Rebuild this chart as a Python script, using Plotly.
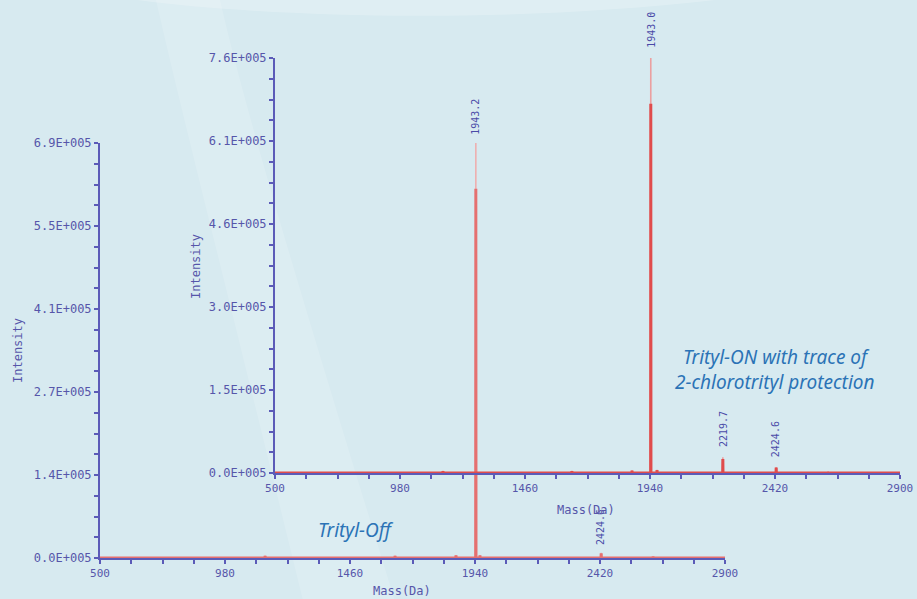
import plotly.graph_objects as go

# ---------------- data ----------------
mass_range = [500, 2900]
x_major = [500, 980, 1460, 1940, 2420, 2900]
x_minor_step = 120

# Back spectrum (Trityl-Off)
off_max = 6.86e5
off_peak_mass = [1134, 1633, 1867, 1943.2, 1959, 2424.6, 2624]
off_peak_int = [4e3, 4e3, 5e3, 6.86e5, 5e3, 8.5e3, 3e3]
off_labels = {1943.2: "1943.2", 2424.6: "2424.6"}

# Front spectrum (Trityl-ON)
on_max = 7.6e5
on_peak_mass = [1145, 1640, 1871, 1943.0, 1967, 2219.7, 2424.6, 2624]
on_peak_int = [4e3, 4e3, 5e3, 7.6e5, 6e3, 2.9e4, 1.1e4, 3e3]
on_labels = {1943.0: "1943.0", 2219.7: "2219.7", 2424.6: "2424.6"}

# ---------------- style ----------------
AXIS = "#5b5bb8"
TICKTXT = "#5656aa"
LABEL = "#4a4aa8"
NOTE = "#2b73b6"
BG = "#d7eaf0"
CORE = 0.89
W, H = 917, 599


def spectrum(masses, ints, scale=1.0):
    xs, ys = [mass_range[0]], [0]
    for m, v in sorted(zip(masses, ints)):
        xs += [m - 0.6, m, m + 0.6]
        ys += [0, v * scale, 0]
    xs.append(mass_range[1])
    ys.append(0)
    return xs, ys


def px_x(p):
    return p / W


def px_y(p):
    return 1 - p / H


fig = go.Figure()

# back spectrum
for scale, col, wid in [(1.0, "#eeb0b0", 1.6), (CORE, "#e57070", 3)]:
    xs, ys = spectrum(off_peak_mass, off_peak_int, scale)
    fig.add_trace(go.Scatter(x=xs, y=ys, mode="lines", xaxis="x", yaxis="y",
                             line=dict(color=col, width=wid), hoverinfo="skip",
                             showlegend=False))
# front spectrum
for scale, col, wid in [(1.0, "#eba0a0", 1.6), (CORE, "#e04c4c", 3)]:
    xs, ys = spectrum(on_peak_mass, on_peak_int, scale)
    fig.add_trace(go.Scatter(x=xs, y=ys, mode="lines", xaxis="x2", yaxis="y2",
                             line=dict(color=col, width=wid), hoverinfo="skip",
                             showlegend=False))


def xaxis_cfg(domain, anchor):
    vals = list(range(mass_range[0], mass_range[1] + 1, x_minor_step))
    txt = [str(v) if v in x_major else "" for v in vals]
    return dict(domain=domain, range=mass_range, anchor=anchor, showline=True,
                linecolor=AXIS, linewidth=2, ticks="outside", ticklen=4,
                tickwidth=1.5, tickcolor=AXIS, tickmode="array", tickvals=vals,
                ticktext=txt, showgrid=False, zeroline=False, automargin=False,
                tickfont=dict(family="DejaVu Sans Mono", size=11, color=TICKTXT),
                layer="below traces", fixedrange=True)


def yaxis_cfg(domain, anchor, vmax):
    vals = [i * vmax / 20 for i in range(21)]
    txt = [("%.1fE+005" % (v / 1e5)) if i % 4 == 0 else "" for i, v in enumerate(vals)]
    return dict(domain=domain, range=[0, vmax], anchor=anchor, showline=True,
                linecolor=AXIS, linewidth=2, ticks="outside", ticklen=4,
                tickwidth=1.5, tickcolor=AXIS, tickmode="array", tickvals=vals,
                ticktext=txt, showgrid=False, zeroline=False, automargin=False,
                tickfont=dict(family="DejaVu Sans Mono", size=12, color=TICKTXT),
                layer="below traces", fixedrange=True)


annotations = []
for (m, t) in off_labels.items():
    v = off_peak_int[off_peak_mass.index(m)]
    annotations.append(dict(x=m, y=v, xref="x", yref="y", text=t, textangle=-90,
                            showarrow=False, xanchor="center", yanchor="bottom",
                            yshift=6, font=dict(family="DejaVu Sans Mono", size=10, color=LABEL)))
for (m, t) in on_labels.items():
    v = on_peak_int[on_peak_mass.index(m)]
    annotations.append(dict(x=m, y=v, xref="x2", yref="y2", text=t, textangle=-90,
                            showarrow=False, xanchor="center", yanchor="bottom",
                            yshift=8, font=dict(family="DejaVu Sans Mono", size=10, color=LABEL)))

titlefont = dict(family="DejaVu Sans Mono", size=12, color=TICKTXT)
for (x, y, t, ang) in [(18, 351, "Intensity", -90), (196, 267, "Intensity", -90),
                       (402, 591, "Mass(Da)", 0), (586, 510, "Mass(Da)", 0)]:
    annotations.append(dict(x=px_x(x), y=px_y(y), xref="paper", yref="paper", text=t,
                            textangle=ang, showarrow=False, xanchor="center",
                            yanchor="middle", font=titlefont))

notefont = dict(family="Noto Sans", size=19, color=NOTE, style="italic")
for (x, y, t) in [(356, 530, "Trityl-Off"), (776, 357, "Trityl-ON with trace of"),
                  (774, 382, "2-chlorotrityl protection")]:
    annotations.append(dict(x=px_x(x), y=px_y(y), xref="paper", yref="paper", text=t,
                            showarrow=False, xanchor="center", yanchor="middle",
                            font=notefont))

shapes = [
    dict(type="path", xref="paper", yref="paper", layer="below", line=dict(width=0),
         fillcolor="rgba(255,255,255,0.22)",
         path="M 0.15,1 C 0.3,0.97 0.55,0.96 0.78,1 Z"),
    dict(type="path", xref="paper", yref="paper", layer="below", line=dict(width=0),
         fillcolor="rgba(255,255,255,0.14)",
         path="M 0.17,1 C 0.2,0.8 0.25,0.5 0.33,0 L 0.43,0 C 0.33,0.5 0.27,0.8 0.24,1 Z"),
]

fig.update_layout(
    width=W, height=H, margin=dict(l=0, r=0, t=0, b=0),
    paper_bgcolor=BG, plot_bgcolor="rgba(0,0,0,0)",
    xaxis=xaxis_cfg([px_x(100), px_x(725)], "y"),
    yaxis=yaxis_cfg([px_y(558), px_y(143)], "x", off_max),
    xaxis2=xaxis_cfg([px_x(275), px_x(900)], "y2"),
    yaxis2=yaxis_cfg([px_y(473), px_y(58)], "x2", on_max),
    annotations=annotations, shapes=shapes, showlegend=False,
)

fig.write_html("out.html", config={"displayModeBar": False},
               post_script="document.body.style.margin='0';document.body.style.overflow='hidden';")
